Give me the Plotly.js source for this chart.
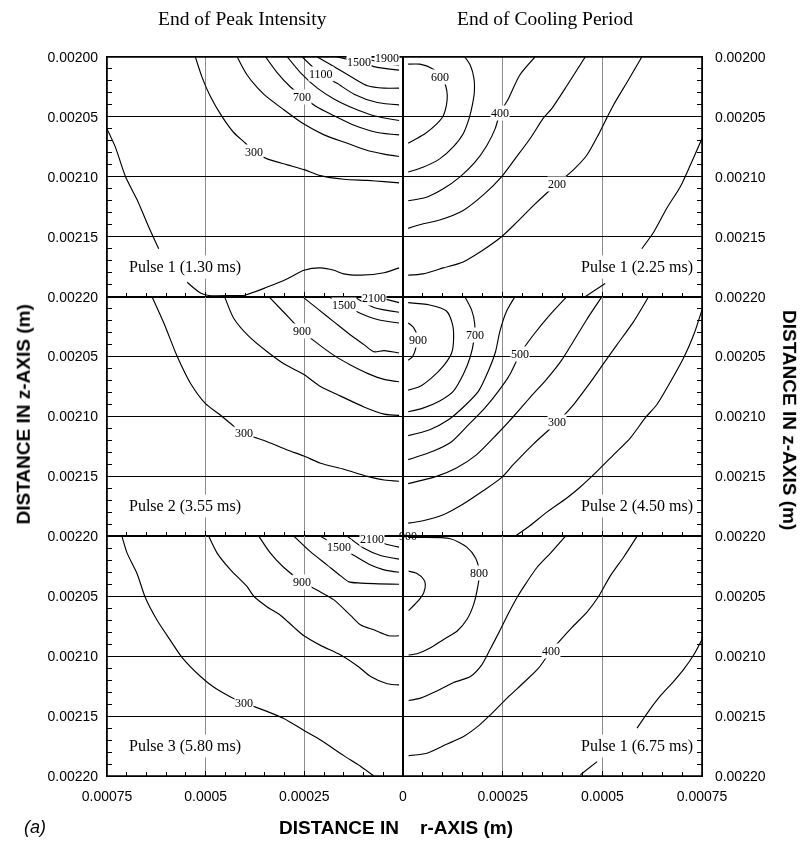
<!DOCTYPE html>
<html><head><meta charset="utf-8">
<script src="https://cdn.plot.ly/plotly-3.0.1.min.js"></script>
<style>
html,body{margin:0;padding:0;background:#fff;}
#chart{width:801px;height:844px;}
.main-svg{will-change:transform;-webkit-font-smoothing:antialiased;}
</style>
</head><body><div id="chart"></div>
<script>
// All r and z values are in micrometres (µm); converted to metres when plotted.

// ---- Panel 1: End of Peak Intensity, Pulse 1 (1.30 ms)
const p1Levels = [100, 300, 500, 700, 900, 1100, 1300, 1500, 1700, 1900];
const p1R = [
  [750,729,703,674,644,619,null,547,513,492,429,403,344,293,251,209,175,150,107,48,10],
  [526,509,488,458,429,399,378,344,293,251,209,150,90,48,10],
  [420,395,353,302,251,200,141,90,48,10],
  [348,319,285,255,217,175,124,65,10],
  [293,260,217,175,124,74,10],
  [255,209,167,124,65,10],
  [217,175,124,90,48,10],
  [167,112,74,10],
  [99,48,10],
  [57,10]
];
const p1Z = [
  [2060,2075,2100,2119,2142,2160,null,2188,2197,2199,2199,2199,2192,2185,2178,2176,2178,2181,2182,2180,2176],
  [2000,2017,2033,2050,2063,2072,2079,2085,2090,2094,2099,2102,2103,2104,2105],
  [2000,2015,2031,2044,2056,2065,2072,2078,2081,2083],
  [2000,2013,2025,2033,2042,2049,2057,2063,2065],
  [2000,2013,2026,2035,2043,2049,2053],
  [2000,2014,2022,2031,2038,2040],
  [2000,2008,2018,2024,2026,2026],
  [2000,2004,2008,2011],
  [2001,2005,2007],
  [2001,2003]
];
const p1LabText = ['300','700','1100','1500','1900'];
const p1LabR = [378,255,209,112,40];
const p1LabZ = [2079,2033,2014,2004,2001];
const p1Pulse = 'Pulse 1 (1.30 ms)';

// ---- Panel 2: End of Cooling Period, Pulse 1 (2.25 ms)
const p2Levels = [600, 500, 400, 300, 200, 100];
const p2R = [
  [13,42,75,96,107,111,109,101,84,55,29,13],
  [155,169,178,179,174,166,151,126,92,50,13],
  [331,293,264,243,231,210,180,143,101,59,13],
  [457,411,373,352,319,281,247,205,151,92,42,13],
  [599,562,528,511,490,461,428,386,327,285,247,201,151,101,50,13],
  [750,721,696,662,629,599,null,507,457]
];
const p2Z = [
  [2006,2006,2010,2016,2024,2032,2040,2049,2056,2064,2069,2072],
  [2000,2007,2018,2029,2040,2051,2064,2075,2085,2092,2096],
  [2000,2015,2035,2047,2060,2074,2088,2100,2110,2117,2120],
  [2000,2024,2043,2051,2068,2085,2100,2114,2128,2136,2140,2143],
  [2000,2021,2040,2051,2065,2082,2094,2106,2124,2138,2150,2161,2171,2176,2181,2182],
  [2068,2090,2108,2126,2146,2160,null,2189,2200]
];
const p2LabText = ['600','400','200'];
const p2LabR = [92,243,386];
const p2LabZ = [2017,2047,2106];
const p2Pulse = 'Pulse 1 (2.25 ms)';

// ---- Panel 3: End of Peak Intensity, Pulse 2 (3.55 ms)
const p3Levels = [300, 600, 900, 1200, 1500, 1800, 2100];
const p3R = [
  [636,606,572,539,501,462,429,403,344,293,251,209,150,90,48,10],
  [452,429,391,344,302,251,209,158,99,48,10],
  [340,302,276,255,217,175,133,90,48,10],
  [255,217,175,133,99,74,48,10],
  [188,150,107,65,10],
  [120,74,10],
  [57,10]
];
const p3Z = [
  [2000,2022,2050,2072,2089,2099,2108,2114,2121,2128,2133,2139,2144,2150,2153,2154],
  [2000,2018,2033,2046,2056,2065,2075,2083,2092,2098,2099],
  [2000,2013,2022,2029,2039,2049,2057,2064,2069,2071],
  [2000,2010,2021,2032,2040,2046,2045,2047],
  [2000,2007,2014,2019,2022],
  [2001,2009,2013],
  [2001,2005]
];
const p3LabText = ['900','300','1500','2100'];
const p3LabR = [255,403,150,74];
const p3LabZ = [2029,2114,2007,2001];
const p3Pulse = 'Pulse 2 (3.55 ms)';

// ---- Panel 4: End of Cooling Period, Pulse 2 (4.50 ms)
const p4Levels = [900, 800, 700, 600, 500, 400, 300, 200];
const p4R = [
  [13,27,35,32,24,13],
  [13,67,109,124,127,122,101,71,42,13],
  [155,172,180,178,168,151,126,92,50,13],
  [281,260,243,232,214,189,155,113,67,13],
  [411,369,327,293,268,239,205,164,122,75,13],
  [499,461,428,398,360,319,277,235,184,134,84,13],
  [616,578,537,507,469,428,386,327,277,247,201,151,101,50,13],
  [750,729,704,671,637,608,570,528,486,444,411,360,319,281]
];
const p4Z = [
  [2022,2026,2033,2043,2050,2053],
  [2005,2007,2012,2023,2034,2047,2058,2068,2075,2078],
  [2000,2011,2023,2036,2051,2065,2079,2087,2093,2096],
  [2000,2012,2029,2046,2062,2079,2091,2103,2111,2116],
  [2000,2015,2032,2048,2065,2079,2093,2107,2121,2129,2136],
  [2000,2019,2037,2053,2069,2084,2100,2115,2132,2143,2150,2156],
  [2000,2021,2040,2054,2072,2090,2105,2123,2140,2151,2162,2173,2182,2187,2189],
  [2011,2032,2051,2071,2090,2101,2118,2132,2146,2159,2168,2180,2191,2200]
];
const p4LabText = ['900','700','500','300'];
const p4LabR = [38,180,293,386];
const p4LabZ = [2036,2032,2048,2105];
const p4Pulse = 'Pulse 2 (4.50 ms)';

// ---- Panel 5: End of Peak Intensity, Pulse 3 (5.80 ms)
const p5Levels = [300, 600, 900, 1200, 1500, 1800, 2100];
const p5R = [
  [712,699,674,653,623,589,560,513,479,437,403,353,302,251,209,150,107,74],
  [492,471,437,395,378,344,310,276,251,209,158,112,82,40,10],
  [365,336,302,255,217,175,133,107,74,36,10],
  [276,234,192,158,137,107,10],
  [209,162,124,82,48,10],
  [141,99,57,10],
  [82,48,10]
];
const p5Z = [
  [2000,2014,2031,2051,2070,2087,2101,2117,2126,2134,2139,2145,2152,2162,2170,2183,2192,2200],
  [2000,2014,2028,2042,2050,2059,2066,2076,2083,2091,2099,2109,2117,2123,2124],
  [2000,2014,2026,2038,2045,2053,2066,2074,2078,2083,2083],
  [2000,2013,2024,2033,2038,2039,2040],
  [2000,2009,2016,2024,2028,2030],
  [2000,2010,2016,2019],
  [2000,2006,2009]
];
const p5LabText = ['1500','2100','900','300'];
const p5LabR = [162,78,255,403];
const p5LabZ = [2009,2002,2038,2139];
const p5Pulse = 'Pulse 3 (5.80 ms)';

// ---- Panel 6: End of Cooling Period, Pulse 1 (6.75 ms)
const p6Levels = [900, 800, 600, 400, 200];
const p6R = [
  [14,35,52,56,52,35,14],
  [13,119,160,182,190,192,187,177,161,136,102,69,35,14],
  [407,370,336,303,286,265,244,219,198,169,127,85,44,14],
  [587,554,520,491,462,424,391,370,340,303,261,219,190,152,106,60,14],
  [750,729,704,679,646,616,587,null,487,445]
];
const p6Z = [
  [2029,2031,2036,2040,2047,2055,2062],
  [2001,2002,2009,2018,2026,2031,2043,2057,2069,2079,2086,2093,2098,2099],
  [2000,2014,2026,2042,2051,2064,2078,2094,2107,2117,2122,2129,2135,2137],
  [2000,2017,2033,2050,2063,2076,2088,2096,2110,2122,2135,2149,2158,2167,2174,2181,2183],
  [2086,2099,2111,2121,2133,2146,2160,null,2188,2199]
];
const p6LabText = ['900','800','400'];
const p6LabR = [12,190,370];
const p6LabZ = [2000,2031,2096];
const p6Pulse = 'Pulse 1 (6.75 ms)';

// Axis tick labels
const leftXTicks = [0.00075, 0.0005, 0.00025, 0];
const leftXText = ['0.00075', '0.0005', '0.00025', '0'];
const rightXTicks = [0.00025, 0.0005, 0.00075];
const rightXText = ['0.00025', '0.0005', '0.00075'];
const yTicksTop = [0.00200, 0.00205, 0.00210, 0.00215, 0.00220];
const yTextTop = ['0.00200', '0.00205', '0.00210', '0.00215', '0.00220'];
const yTicksLow = [0.00205, 0.00210, 0.00215, 0.00220];
const yTextLow = ['0.00205', '0.00210', '0.00215', '0.00220'];
const colTitles = ['End of Peak Intensity', 'End of Cooling Period'];

// ---------- build ----------
const UM = 1e-6;
const toM = a => a.map(v => v === null ? null : v * UM);
const SERIF = 'Liberation Serif, Times New Roman, serif';
const SANS = 'Liberation Sans, Arial, sans-serif';

const panels = [
  {lv:p1Levels, r:p1R, z:p1Z, lt:p1LabText, lr:p1LabR, lz:p1LabZ, pulse:p1Pulse, n:1, side:'left'},
  {lv:p2Levels, r:p2R, z:p2Z, lt:p2LabText, lr:p2LabR, lz:p2LabZ, pulse:p2Pulse, n:2, side:'right'},
  {lv:p3Levels, r:p3R, z:p3Z, lt:p3LabText, lr:p3LabR, lz:p3LabZ, pulse:p3Pulse, n:3, side:'left'},
  {lv:p4Levels, r:p4R, z:p4Z, lt:p4LabText, lr:p4LabR, lz:p4LabZ, pulse:p4Pulse, n:4, side:'right'},
  {lv:p5Levels, r:p5R, z:p5Z, lt:p5LabText, lr:p5LabR, lz:p5LabZ, pulse:p5Pulse, n:5, side:'left'},
  {lv:p6Levels, r:p6R, z:p6Z, lt:p6LabText, lr:p6LabR, lz:p6LabZ, pulse:p6Pulse, n:6, side:'right'}
];

const traces = [];
const annotations = [];
const layout = {
  width: 801, height: 844,
  margin: {l:107, r:99, t:57, b:68},
  paper_bgcolor: '#fff', plot_bgcolor: '#fff',
  showlegend: false,
  font: {family: SANS, color: '#000'},
  shapes: [{type: 'rect', xref: 'paper', yref: 'paper', x0: 0, x1: 1, y0: 0, y1: 1,
            line: {color: '#000', width: 1.6}, fillcolor: 'rgba(0,0,0,0)', layer: 'above'}]
};

const SPLIT = 0.4975;
const rowDomains = [[2/3, 1], [1/3, 2/3], [0, 1/3]];

panels.forEach((p, i) => {
  const row = Math.floor(i / 2);
  const isLeft = p.side === 'left';
  const xs = p.n === 1 ? 'x' : 'x' + p.n;
  const ys = p.n === 1 ? 'y' : 'y' + p.n;
  const xk = p.n === 1 ? 'xaxis' : 'xaxis' + p.n;
  const yk = p.n === 1 ? 'yaxis' : 'yaxis' + p.n;

  p.r.forEach((rr, k) => {
    traces.push({
      type: 'scatter', mode: 'lines', name: String(p.lv[k]),
      x: toM(rr), y: toM(p.z[k]), xaxis: xs, yaxis: ys,
      line: {color: '#000', width: 1.15, shape: 'spline', smoothing: 0.7},
      hoverinfo: 'skip', connectgaps: false
    });
  });

  p.lt.forEach((t, k) => {
    annotations.push({
      text: t, x: p.lr[k] * UM, y: p.lz[k] * UM, xref: xs, yref: ys,
      showarrow: false, xanchor: 'center', yanchor: 'middle',
      font: {family: SERIF, size: 12, color: '#000'},
      bgcolor: (p.n === 6 && k === 0) ? 'rgba(0,0,0,0)' : '#fff', borderpad: 0
    });
  });

  annotations.push({
    text: p.pulse, xref: xs, yref: ys,
    x: (isLeft ? 701 : 736) * UM, y: 2175 * UM,
    xanchor: isLeft ? 'left' : 'right', yanchor: 'middle', showarrow: false,
    font: {family: SERIF, size: 16, color: '#000'},
    bgcolor: '#fff', borderpad: 2
  });

  const bottom = row === 2;
  layout[xk] = {
    domain: isLeft ? [0, SPLIT] : [SPLIT, 1],
    anchor: ys,
    range: isLeft ? [0.00075 + 1e-9, -1e-9] : [-1e-9, 0.00075 + 1e-9],
    tickmode: 'array',
    tickvals: isLeft ? leftXTicks : rightXTicks,
    ticktext: isLeft ? leftXText : rightXText,
    showticklabels: bottom,
    tickfont: {family: SANS, size: 14, color: '#000'},
    ticks: 'inside', ticklen: 5, tickcolor: '#000',
    ticklabelstandoff: 7,
    showgrid: true, gridcolor: '#8c8c8c', gridwidth: 1,
    zeroline: false,
    showline: true, linecolor: '#000', linewidth: 1.1, mirror: true,
    minor: {tickmode: 'linear', tick0: 0, dtick: 0.00005, ticks: 'inside', ticklen: 4, tickcolor: '#000', tickwidth: 1, showgrid: false}
  };
  layout[yk] = {
    domain: rowDomains[row],
    anchor: xs,
    side: isLeft ? 'left' : 'right',
    range: [0.0022 + 1e-10, 0.0020 - 1e-10],
    tickmode: 'array',
    tickvals: row === 0 ? yTicksTop : yTicksLow,
    ticktext: row === 0 ? yTextTop : yTextLow,
    tickfont: {family: SANS, size: 14, color: '#000'},
    ticks: 'inside', ticklen: 5, tickcolor: '#000',
    ticklabelstandoff: isLeft ? 5 : 9,
    showgrid: true, gridcolor: '#000', gridwidth: 1,
    zeroline: false,
    showline: true, linecolor: '#000', linewidth: 1.1, mirror: true,
    minor: {tickmode: 'linear', tick0: 0.002, dtick: 0.00001, ticks: 'inside', ticklen: 5, tickcolor: '#000', tickwidth: 1, showgrid: false}
  };
});

// Column titles
annotations.push({text: colTitles[0], xref: 'paper', yref: 'paper', x: 0.227, y: 1.054,
  xanchor: 'center', yanchor: 'middle', showarrow: false, font: {family: SERIF, size: 19.5, color: '#000'}});
annotations.push({text: colTitles[1], xref: 'paper', yref: 'paper', x: 0.736, y: 1.054,
  xanchor: 'center', yanchor: 'middle', showarrow: false, font: {family: SERIF, size: 19.5, color: '#000'}});
// Axis titles
annotations.push({text: '<b>DISTANCE IN z-AXIS (m)</b>', xref: 'paper', yref: 'paper', x: -0.141, y: 0.503,
  xanchor: 'center', yanchor: 'middle', textangle: -90, showarrow: false, font: {family: SANS, size: 19, color: '#000'}});
annotations.push({text: '<b>DISTANCE IN z-AXIS (m)</b>', xref: 'paper', yref: 'paper', x: 1.148, y: 0.495,
  xanchor: 'center', yanchor: 'middle', textangle: 90, showarrow: false, font: {family: SANS, size: 19, color: '#000'}});
annotations.push({text: '<b>DISTANCE IN\u00a0\u00a0\u00a0 r-AXIS (m)</b>', xref: 'paper', yref: 'paper', x: 0.486, y: -0.071,
  xanchor: 'center', yanchor: 'middle', showarrow: false, font: {family: SANS, size: 19, color: '#000'}});
annotations.push({text: '<i>(a)</i>', xref: 'paper', yref: 'paper', x: -0.121, y: -0.071,
  xanchor: 'center', yanchor: 'middle', showarrow: false, font: {family: SANS, size: 18, color: '#000'}});

layout.annotations = annotations;

Plotly.newPlot('chart', traces, layout, {displayModeBar: false, staticPlot: true});
</script>
</body></html>
